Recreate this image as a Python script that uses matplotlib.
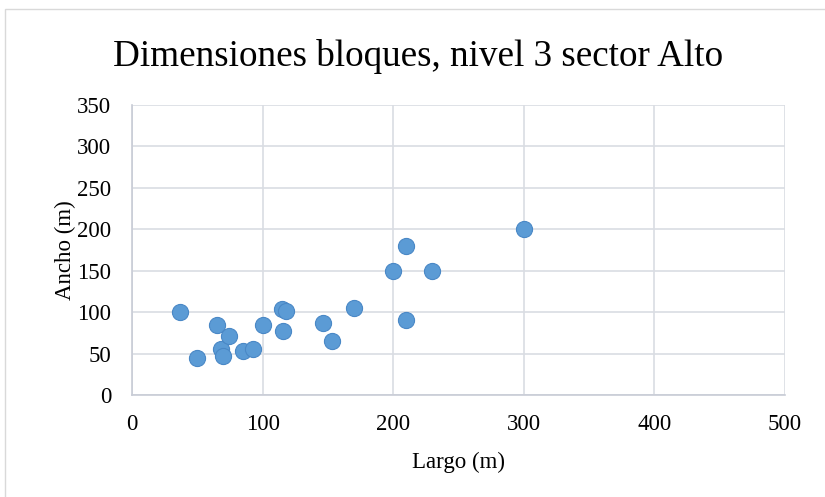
import matplotlib.pyplot as plt
from matplotlib.patches import Rectangle

# Dimensiones de bloques (largo x ancho, en metros)
largo = [37, 50, 65, 68, 70, 74, 85, 93, 100, 115, 118, 116, 146, 153, 170,
         200, 210, 230, 210, 300]
ancho = [100, 45, 85, 55, 47, 71, 53, 56, 85, 104, 101, 77, 87, 65, 105,
         150, 180, 150, 90, 200]

x_ticks = [0, 100, 200, 300, 400, 500]
y_ticks = [0, 50, 100, 150, 200, 250, 300, 350]

plt.rcParams['font.family'] = ['Liberation Serif', 'DejaVu Serif']

fig = plt.figure(figsize=(8.25, 4.97), dpi=100)
W, H = 825, 497
ax = fig.add_axes([132 / W, 1 - 395 / H, (785 - 132) / W, (395 - 105) / H])

# marco del area del grafico
fig.patches.append(Rectangle((5 / W, -0.01), 1.0, 1 - 9 / H + 0.01,
                             transform=fig.transFigure, fill=False,
                             edgecolor='#d9d9d9', linewidth=1))

ax.scatter(largo, ancho, s=135, color='#5b9bd5', edgecolors='#4a88c6',
           linewidths=0.8, zorder=3)

ax.set_xlim(0, 500)
ax.set_ylim(0, 350)
ax.set_xticks(x_ticks)
ax.set_yticks(y_ticks)
ax.tick_params(length=0, labelsize=16.5)
ax.tick_params(axis='x', pad=14)
ax.tick_params(axis='y', pad=15)
ax.grid(True, color='#d9dde3', linewidth=1.2)
ax.set_axisbelow(True)
for s in ['top', 'right']:
    ax.spines[s].set_visible(False)
ax.spines['left'].set_color('#c8ccd6')
ax.spines['bottom'].set_color('#c8ccd6')
ax.spines['left'].set_linewidth(1.2)
ax.spines['bottom'].set_linewidth(1.2)

ax.set_xlabel('Largo (m)', fontsize=16.5, labelpad=12)
ax.set_ylabel('Ancho (m)', fontsize=16.5, labelpad=1)
fig.text(418 / W, 1 - 56 / H, 'Dimensiones bloques, nivel 3 sector Alto',
         fontsize=26.7, ha='center', va='center')

fig.savefig('out.png', dpi=100)
